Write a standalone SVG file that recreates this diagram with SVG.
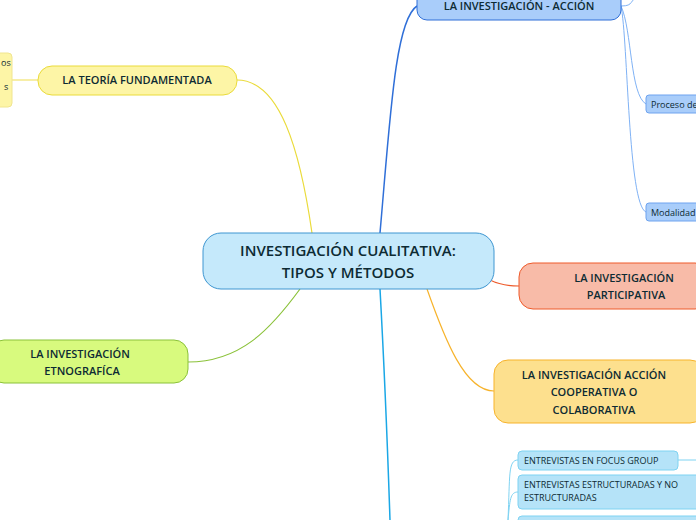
<svg xmlns="http://www.w3.org/2000/svg" width="696" height="520" viewBox="0 0 696 520">
<style>
text{font-family:"Open Sans","Noto Sans","Liberation Sans",sans-serif;fill:#0d2b33}
.m{font-size:11px;font-weight:600;text-anchor:middle}
.s{font-size:9px}
.c{fill:none}
</style>
<rect width="696" height="520" fill="#fff"/>
<g id="connectors" class="c">
<path d="M380 233 C390 120 395 20 417 6" stroke="#2f6fd8" stroke-width="1.5"/>
<path d="M380 289 C385 380 388 460 390 520" stroke="#1aa7e6" stroke-width="1.5"/>
<path d="M312 233 C300 150 280 80 237 80" stroke="#eadb3a" stroke-width="1.2"/>
<path d="M300 289 C270 330 240 362 188 362" stroke="#8bc23a" stroke-width="1.2"/>
<path d="M490 280 C500 285 510 286 519 286" stroke="#ee5a2a" stroke-width="1.2"/>
<path d="M427 289 C445 340 465 391 494 391" stroke="#f7b32b" stroke-width="1.2"/>
<path d="M38 80 L12 80" stroke="#f5e98a" stroke-width="1.5"/>
<path d="M621 6 C635 6 628 0 640 -4" stroke="#7fb2f5"/>
<path d="M621 6 C632 30 630 95 646 104" stroke="#7fb2f5"/>
<path d="M621 6 C628 40 628 205 646 212" stroke="#7fb2f5"/>
<path d="M518 460 C508 460 510 475 508 520" stroke="#7fd3f2"/>
<path d="M518 492 C510 492 510 500 508 520" stroke="#7fd3f2"/>
<path d="M678 460 L696 460" stroke="#7fd3f2"/>
</g>
<g id="central"><rect x="203" y="233" width="291" height="56" rx="18" fill="#c5e9fb" stroke="#3e96d1"/>
<text class="m" x="348" y="256" style="font-size:15px">INVESTIGACIÓN CUALITATIVA:</text>
<text class="m" x="348" y="278" style="font-size:15px">TIPOS Y MÉTODOS</text></g>
<g id="accion"><rect x="417" y="-12" width="204" height="32" rx="10" fill="#a9cdfa" stroke="#2f6fd8"/>
<text class="m" x="519" y="10">LA INVESTIGACIÓN - ACCIÓN</text></g>
<g id="proceso"><rect x="646" y="95" width="60" height="18" rx="3" fill="#a9cdfa" stroke="#6ea3ef"/>
<text class="s" x="651" y="108">Proceso de</text></g>
<g id="modalidad"><rect x="646" y="203" width="60" height="18" rx="3" fill="#a9cdfa" stroke="#6ea3ef"/>
<text class="s" x="651" y="216">Modalidad</text></g>
<g id="teoria"><rect x="38" y="66" width="199" height="29" rx="14" fill="#fdf5a6" stroke="#eadb3a"/>
<text class="m" x="137" y="84">LA TEORÍA FUNDAMENTADA</text></g>
<g id="teoria-sub"><rect x="-10" y="53" width="22" height="54" rx="4" fill="#fdf5a6" stroke="#f0e590"/>
<text class="s" x="1" y="66">os</text><text class="s" x="4" y="90">s</text></g>
<g id="participativa"><rect x="519" y="263" width="190" height="46" rx="14" fill="#f8bba8" stroke="#ee5a2a"/>
<text class="m" x="624" y="282">LA INVESTIGACIÓN</text><text class="m" x="626" y="299">PARTICIPATIVA</text></g>
<g id="cooperativa"><rect x="494" y="360" width="210" height="63" rx="14" fill="#fde08e" stroke="#f7b32b"/>
<text class="m" x="594" y="379">LA INVESTIGACIÓN ACCIÓN</text><text class="m" x="594" y="396">COOPERATIVA O</text><text class="m" x="594" y="414">COLABORATIVA</text></g>
<g id="etnografica"><rect x="-10" y="340" width="198" height="43" rx="14" fill="#d8fa7e" stroke="#8bc23a"/>
<text class="m" x="80" y="358">LA INVESTIGACIÓN</text><text class="m" x="82" y="375">ETNOGRAFÍCA</text></g>
<g id="focus"><rect x="518" y="451" width="160" height="19" rx="4" fill="#b5e3f8" stroke="#7fd3f2"/>
<text class="s" x="524" y="464">ENTREVISTAS EN FOCUS GROUP</text></g>
<g id="estructuradas"><rect x="518" y="475" width="190" height="34" rx="4" fill="#b5e3f8" stroke="#7fd3f2"/>
<text class="s" x="524" y="488">ENTREVISTAS ESTRUCTURADAS Y NO</text><text class="s" x="524" y="501">ESTRUCTURADAS</text></g>
<g id="third"><rect x="518" y="516" width="190" height="20" rx="4" fill="#b5e3f8" stroke="#7fd3f2"/></g>
</svg>
